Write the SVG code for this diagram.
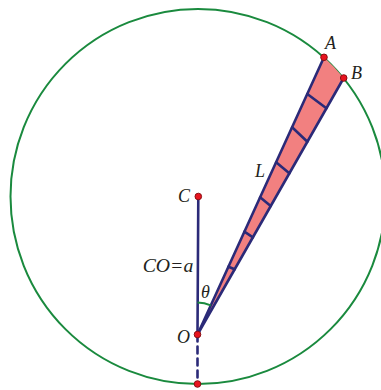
<svg xmlns="http://www.w3.org/2000/svg" width="381" height="390" viewBox="0 0 381 390">
<style>
.lbl{font-family:"Liberation Serif","DejaVu Serif",serif;font-style:italic;font-size:18px;fill:#231f20}
.navy{stroke:#2b2a78;stroke-width:2.6;fill:none;stroke-linecap:round}
.green{stroke:#1a8a3e;stroke-width:2;fill:none}
.dot{fill:#e8141e;stroke:#8a0f14;stroke-width:1}
</style>
<rect width="381" height="390" fill="#fff"/>
<g id="circle"><circle class="green" cx="198" cy="196.5" r="187.5"/></g>
<g id="wedge">
<path d="M197.5,334.5 L324,57.3 A187.5,187.5 0 0 1 343.7,78 Z" fill="#f28080" stroke="none"/>
</g>
<g id="connectors">
<line class="navy" x1="198.3" y1="196.5" x2="197.5" y2="334.5"/>
<line class="navy" x1="197.5" y1="334.5" x2="197.5" y2="384" stroke-dasharray="7,5" stroke-linecap="butt"/>
<line class="navy" x1="197.5" y1="334.5" x2="324" y2="57.3"/>
<line class="navy" x1="197.5" y1="334.5" x2="343.7" y2="78"/>
<g class="navy">
<line x1="307.3" y1="94" x2="326.4" y2="108.3"/>
<line x1="292.1" y1="127.3" x2="307.4" y2="141.7"/>
<line x1="276.1" y1="162.3" x2="289.3" y2="173.3"/>
<line x1="260.1" y1="197.3" x2="270.7" y2="206"/>
<line x1="244.4" y1="231.7" x2="252.9" y2="237.3"/>
<line x1="228.5" y1="266.7" x2="234.6" y2="269.3"/>
</g>
<path class="green" d="M197.5,302.5 A32,32 0 0 1 210.8,305.4"/>
</g>
<g id="A"><circle class="dot" cx="324" cy="57.3" r="3.3"/><text class="lbl" x="325" y="48.5">A</text></g>
<g id="B"><circle class="dot" cx="343.7" cy="78" r="3.3"/><text class="lbl" x="351" y="78.5">B</text></g>
<g id="C"><circle class="dot" cx="198.3" cy="196.5" r="3.3"/><text class="lbl" x="178" y="201.5">C</text></g>
<g id="O"><circle class="dot" cx="197.5" cy="334.5" r="3.3"/><text class="lbl" x="177" y="343.3">O</text></g>
<g id="bottom"><circle class="dot" cx="197.5" cy="384" r="3.3"/></g>
<g id="labels">
<text class="lbl" x="255" y="176.5">L</text>
<text class="lbl" x="142.7" y="271.5" textLength="50.6" lengthAdjust="spacingAndGlyphs">CO=a</text>
<text class="lbl" x="201" y="298.3">θ</text>
</g>
</svg>
